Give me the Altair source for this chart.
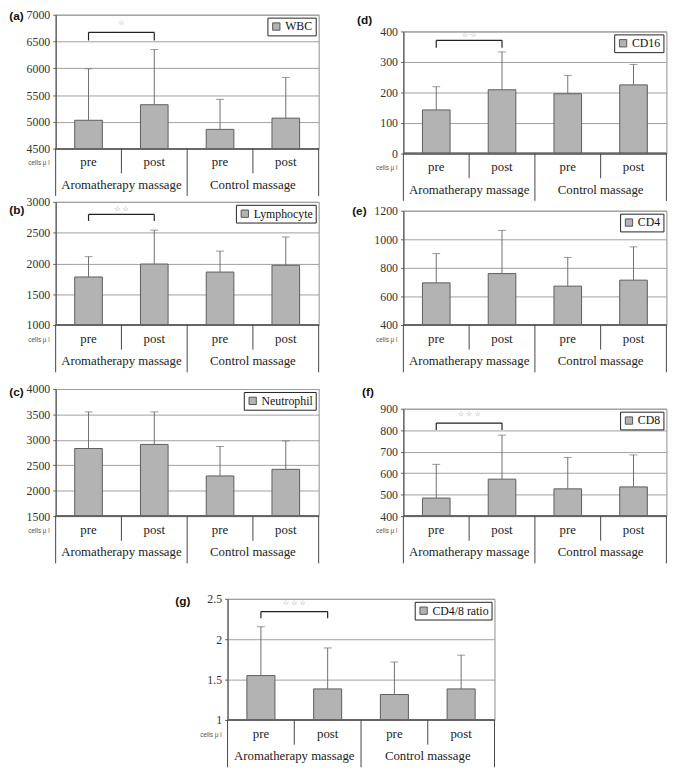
import altair as alt
import pandas as pd

# ---------------- data ----------------
cats = ["A_pre", "A_post", "C_pre", "C_post"]
phase_labels = ["pre", "post", "pre", "post"]
group_keys = ["A_post", "C_post"]
group_names = ["Aromatherapy massage", "Control massage"]
unit_label = "cells μ l"

# (a) WBC
wbc_mean = [5030, 5320, 4860, 5070]
wbc_upper = [5990, 6350, 5420, 5830]
wbc_ticks = [4500, 5000, 5500, 6000, 6500, 7000]
# (b) Lymphocyte
lym_mean = [1780, 1990, 1860, 1970]
lym_upper = [2110, 2540, 2200, 2430]
lym_ticks = [1000, 1500, 2000, 2500, 3000]
# (c) Neutrophil
neu_mean = [2830, 2910, 2290, 2420]
neu_upper = [3550, 3550, 2870, 2980]
neu_ticks = [1500, 2000, 2500, 3000, 3500, 4000]
# (d) CD16
cd16_mean = [143, 209, 196, 225]
cd16_upper = [219, 333, 256, 292]
cd16_ticks = [0, 100, 200, 300, 400]
# (e) CD4
cd4_mean = [695, 760, 672, 714]
cd4_upper = [900, 1062, 873, 947]
cd4_ticks = [400, 600, 800, 1000, 1200]
# (f) CD8
cd8_mean = [484, 572, 527, 536]
cd8_upper = [641, 777, 673, 685]
cd8_ticks = [400, 500, 600, 700, 800, 900]
# (g) CD4/8 ratio
ratio_mean = [1.55, 1.385, 1.316, 1.385]
ratio_upper = [2.155, 1.892, 1.718, 1.803]
ratio_ticks = [1, 1.5, 2, 2.5]

# significance brackets: (stars, bracket level, leg end, star position)
sig_wbc = ("☆", 6670, 6520, 6840)
sig_lym = ("☆ ☆", 2796, 2690, 2880)
sig_cd16 = ("☆ ☆", 371, 347, 388)
sig_cd8 = ("☆ ☆ ☆", 833, 801, 874)
sig_ratio = ("☆ ☆ ☆", 2.342, 2.261, 2.445)

BAR_FILL = "#b3b3b3"
SERIF = "Liberation Serif"
SANS = "Liberation Sans"


def panel(tag, name, means, uppers, ticks, height, sig, tag_dx, tag_dy, fmt="d", width=267):
    lo, hi = ticks[0], ticks[-1]
    df = pd.DataFrame({"cat": cats, "mean": means, "upper": uppers,
                       "series": [name] * 4, "phase": phase_labels})
    xs = alt.Scale(domain=cats, paddingInner=0, paddingOuter=0)
    ys = alt.Scale(domain=[lo, hi], nice=False, zero=False)
    yaxis = alt.Axis(values=ticks, tickCount=len(ticks), grid=True, gridColor="#a0a0a0",
                     gridWidth=1, domainColor="#444", tickSize=3, tickColor="#666",
                     labelFont=SERIF, labelFontSize=12, labelColor="#333",
                     labelPadding=3, labelOverlap=False, format=fmt, title=None)

    def X(field="cat", bp=0.5):
        return alt.X(f"{field}:N", scale=xs, axis=None, bandPosition=bp)

    base = alt.Chart(df)
    bars = base.mark_bar(width=alt.RelativeBandSize(0.42), stroke="#5c5c5c", strokeWidth=1).encode(
        x=alt.X("cat:N", scale=xs, axis=None),
        y=alt.Y("mean:Q", scale=ys, axis=yaxis),
        y2=alt.datum(lo),
        color=alt.Color("series:N", scale=alt.Scale(range=[BAR_FILL]),
                        legend=alt.Legend(title=None, orient="top-right", offset=3,
                                          strokeColor="#222", fillColor="white", padding=3,
                                          symbolType="square", symbolSize=55,
                                          symbolStrokeColor="#555", symbolStrokeWidth=1,
                                          labelFont=SERIF, labelFontSize=12, labelColor="#111",
                                          labelOffset=3)),
    )
    err = base.mark_rule(color="#6e6e6e", strokeWidth=1).encode(
        x=X(), y=alt.Y("mean:Q", scale=ys, axis=yaxis), y2="upper:Q")
    cap = base.mark_tick(color="#6e6e6e", thickness=1, size=8, orient="horizontal").encode(
        x=X(), y=alt.Y("upper:Q", scale=ys, axis=yaxis))
    baseline = base.mark_rule(color="#666", strokeWidth=1.5).encode(
        y=alt.datum(lo), x=alt.value(0), x2=alt.value(width))

    layers = [bars, err, cap, baseline]

    if sig is not None:
        stars, level, leg, star_y = sig
        sdf = pd.DataFrame({"a": ["A_pre"], "b": ["A_post"], "level": [level],
                            "leg": [leg], "star_y": [star_y], "stars": [stars]})
        legs = pd.DataFrame({"cat": ["A_pre", "A_post"], "level": [level] * 2, "leg": [leg] * 2})
        sch = alt.Chart(sdf)
        layers.append(sch.mark_rule(color="#222", strokeWidth=1.2).encode(
            x=X("a"), x2="b:N", y=alt.Y("level:Q", scale=ys, axis=yaxis)))
        layers.append(alt.Chart(legs).mark_rule(color="#222", strokeWidth=1.2).encode(
            x=X(), y=alt.Y("level:Q", scale=ys, axis=yaxis), y2="leg:Q"))
        layers.append(sch.mark_text(font="DejaVu Sans", fontSize=7, color="#888").encode(
            x=X("b", 0), y=alt.Y("star_y:Q", scale=ys, axis=yaxis), text="stars:N"))

    # category area below the plot
    layers.append(alt.Chart(pd.DataFrame({"cat": ["A_post", "C_post"]})).mark_rule(
        color="#444", strokeWidth=1).encode(x=X(bp=0), y=alt.value(height), y2=alt.value(height + 25)))
    layers.append(alt.Chart(pd.DataFrame({"cat": ["A_pre", "C_pre"]})).mark_rule(
        color="#444", strokeWidth=1).encode(x=X(bp=0), y=alt.value(height), y2=alt.value(height + 48)))
    layers.append(alt.Chart(pd.DataFrame({"cat": ["C_post"]})).mark_rule(
        color="#444", strokeWidth=1).encode(x=X(bp=1), y=alt.value(height), y2=alt.value(height + 48)))
    layers.append(base.mark_text(font=SERIF, fontSize=13, color="#222").encode(
        x=X(), y=alt.value(height + 14), text="phase:N"))
    layers.append(alt.Chart(pd.DataFrame({"cat": group_keys, "g": group_names})).mark_text(
        font=SERIF, fontSize=13, color="#222").encode(
        x=X(bp=0), y=alt.value(height + 37), text="g:N"))
    layers.append(alt.Chart(pd.DataFrame({"t": [unit_label]})).mark_text(
        font=SANS, fontSize=6.5, color="#555", align="right").encode(
        x=alt.value(-6), y=alt.value(height + 15), text="t:N"))
    layers.append(alt.Chart(pd.DataFrame({"t": [tag]})).mark_text(
        font=SANS, fontSize=12, fontWeight="bold", color="#111", align="left").encode(
        x=alt.value(tag_dx), y=alt.value(tag_dy), text="t:N"))

    return alt.layer(*layers).properties(width=width, height=height)


def spacer(h, w=267):
    return alt.Chart(pd.DataFrame({"v": [0]})).mark_point(opacity=0).encode(
        x=alt.value(0), y=alt.value(0)).properties(
        width=w, height=h, view=alt.ViewBackground(strokeOpacity=0))


pa = panel("(a)", "WBC", wbc_mean, wbc_upper, wbc_ticks, 136, sig_wbc, -47, 1)
pb = panel("(b)", "Lymphocyte", lym_mean, lym_upper, lym_ticks, 125, sig_lym, -47, 8)
pc = panel("(c)", "Neutrophil", neu_mean, neu_upper, neu_ticks, 129, None, -47, 3)
pd_ = panel("(d)", "CD16", cd16_mean, cd16_upper, cd16_ticks, 124, sig_cd16, -47, -12)
pe = panel("(e)", "CD4", cd4_mean, cd4_upper, cd4_ticks, 116, None, -52, 0)
pf = panel("(f)", "CD8", cd8_mean, cd8_upper, cd8_ticks, 109, sig_cd8, -42, -17)
pg = panel("(g)", "CD4/8 ratio", ratio_mean, ratio_upper, ratio_ticks, 123, sig_ratio, -53, 2,
           fmt=".1~f", width=271)

left = alt.vconcat(pa, spacer(54), pb, spacer(65), pc, spacing=0, bounds="flush").resolve_scale(
    color="independent")
right = alt.vconcat(spacer(17), pd_, spacer(58), pe, spacer(85), pf, spacing=0,
                    bounds="flush").resolve_scale(color="independent")
top = alt.hconcat(left, right, spacing=31).resolve_scale(color="independent")
chart = alt.vconcat(top, pg, spacing=28, center=True).resolve_scale(
    color="independent").properties(
    padding={"left": 0, "top": -6, "right": 0, "bottom": 0}).configure_view(
    stroke="#8c8c8c", strokeWidth=1).configure_axis(labelFont=SERIF)

chart.save("out.html", embed_options={"renderer": "svg", "actions": False})
